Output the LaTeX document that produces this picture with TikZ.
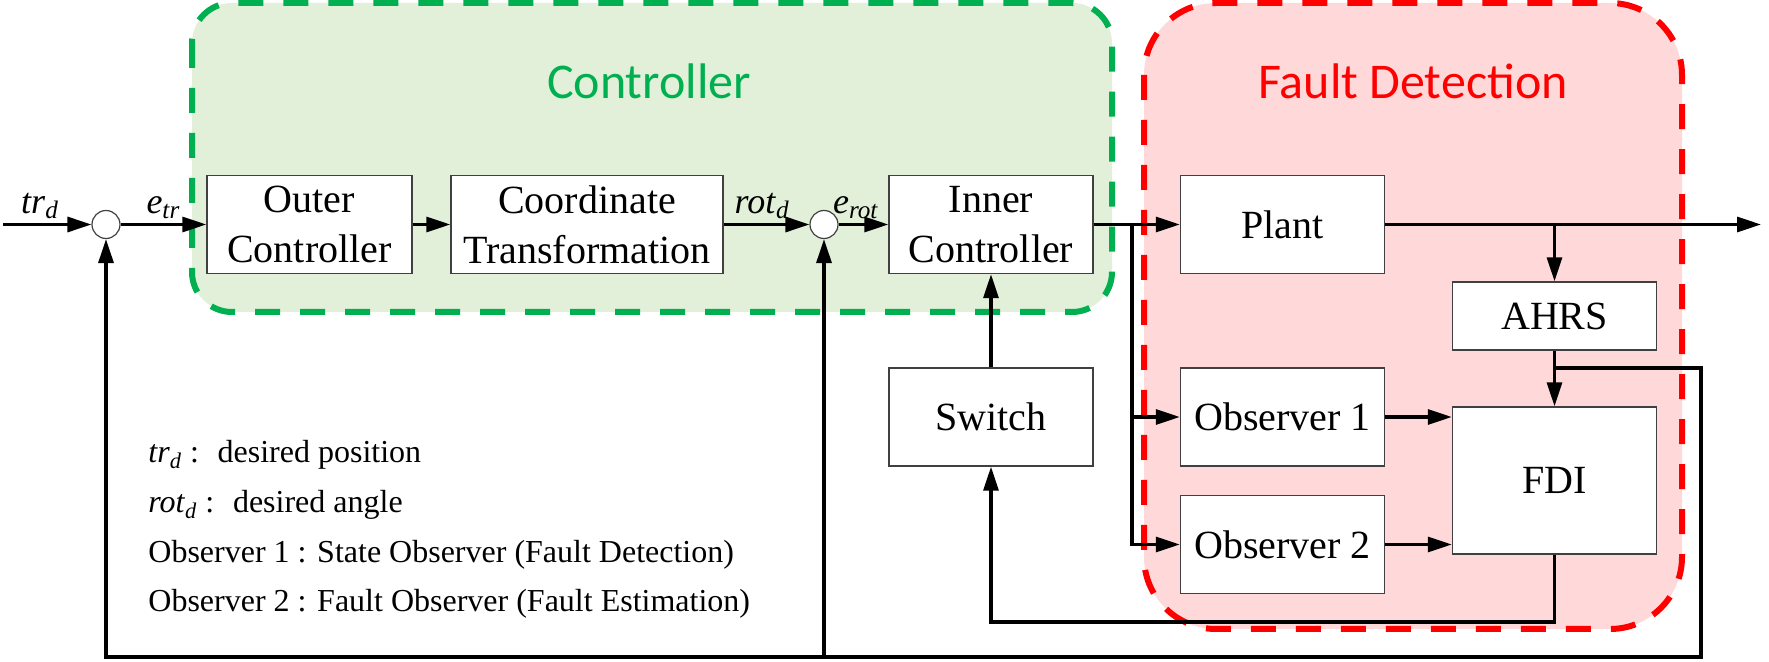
\documentclass[tikz,border=0pt]{standalone}
\usepackage{fontspec}
\setmainfont{Liberation Serif}
\newfontfamily\titlefont{Carlito}
\usepackage{tikz}
\usetikzlibrary{arrows.meta}

\definecolor{ctrlgreen}{HTML}{00B050}
\definecolor{ctrlfill}{HTML}{E2F0D9}
\definecolor{fdred}{HTML}{FF0000}
\definecolor{fdfill}{HTML}{FFD9D9}
\newcommand{\sig}[2]{\textit{#1}\textsubscript{\textit{#2}}}

\begin{document}
\begin{tikzpicture}[x=0.5pt, y=-0.5pt,
	block/.style={draw=black!75, line width=0.7pt, fill=white, minimum width=102pt, minimum height=49pt, align=center, inner sep=0pt, font=\fontsize{20}{25}\selectfont},
	sum/.style={circle, draw=black!75, line width=0.6pt, fill=white, minimum size=14pt, inner sep=0pt},
	arr/.style={line width=1.6pt, -{Triangle[length=12pt,width=7.5pt]}},
	lab/.style={font=\fontsize{18}{20}\selectfont, inner sep=2pt},
	legend/.style={anchor=base west, inner sep=0pt, font=\fontsize{16}{19}\selectfont},
	region/.style={line width=3pt, dash pattern=on 12.5pt off 10pt},
	title/.style={font=\titlefont\fontsize{25}{30}\selectfont}]
\useasboundingbox (0,0) rectangle (1769,662);
\draw[region, draw=ctrlgreen, fill=ctrlfill, rounded corners=20pt] (192,3) rectangle (1112,312);
\draw[region, draw=fdred, fill=fdfill, rounded corners=36pt] (1144,3) rectangle (1682,629);
\node[title, text=ctrlgreen] (ctrltitle) at (649,81) {Controller};
\node[title, text=fdred] (fdtitle) at (1413,81) {Fault Detection};

\node[sum] (sum1) at (106,224.5) {};
\node[block, minimum width=102.5pt] (outer) at (309.5,224.5) {Outer\\Controller};
\node[block, minimum width=136pt] (coord) at (587,224.5) {Coordinate\\Transformation};
\node[sum] (sum2) at (824,224.5) {};
\node[block] (inner) at (991,224.5) {Inner\\Controller};
\node[block] (plant) at (1282.5,224.5) {Plant};
\node[block, minimum height=34pt] (ahrs) at (1554.5,316) {AHRS};
\node[block] (switch) at (991,417) {Switch};
\node[block] (obs1) at (1282.5,417) {Observer 1};
\node[block] (obs2) at (1282.5,544.5) {Observer 2};
\node[block, minimum height=73.5pt] (fdi) at (1554.5,480.5) {FDI};

\coordinate (in) at (3,224.5);
\coordinate (out) at (1761,224.5);
\coordinate (tap1) at (1132,224.5);
\coordinate (tap2) at (ahrs.north |- plant.east);
\coordinate (tap3) at (1554.5,368);
\coordinate (fbcorner) at (1701,657);
\coordinate (fdicorner) at (1554.5,622);

\path[arr]
(in) edge node [lab, above, pos=0.42] {\sig{tr}{d}} (sum1)
(sum1) edge node [lab, above, pos=0.5] {\sig{e}{tr}} (outer)
(outer) edge (coord)
(coord) edge node [lab, above, pos=0.45] {\sig{rot}{d}} (sum2)
(sum2) edge node [lab, above, pos=0.35] {\sig{e}{rot}} (inner)
(inner) edge (plant)
(plant) edge (out)
(tap2) edge (ahrs)
(ahrs) edge (fdi)
(switch) edge (inner)
(obs1) edge (obs1.east -| fdi.west)
(obs2) edge (obs2.east -| fdi.west)
;
\draw[arr] (tap1) |- (obs1.west);
\draw[arr] (tap1) |- (obs2.west);
\draw[arr] (tap3) -| (fbcorner) -| (sum1.south);
\draw[arr] (sum2 |- fbcorner) -- (sum2.south);
\draw[arr] (fdi.south) -- (fdicorner) -| (switch.south);

\node[legend] (leg1) at (148,463) {\sig{tr}{d} :~ desired position};
\node[legend] (leg2) at (148,513) {\sig{rot}{d} :~ desired angle};
\node[legend] (leg3) at (148,563) {Observer 1 : State Observer (Fault Detection)};
\node[legend] (leg4) at (148,612) {Observer 2 : Fault Observer (Fault Estimation)};
\end{tikzpicture}
\end{document}
